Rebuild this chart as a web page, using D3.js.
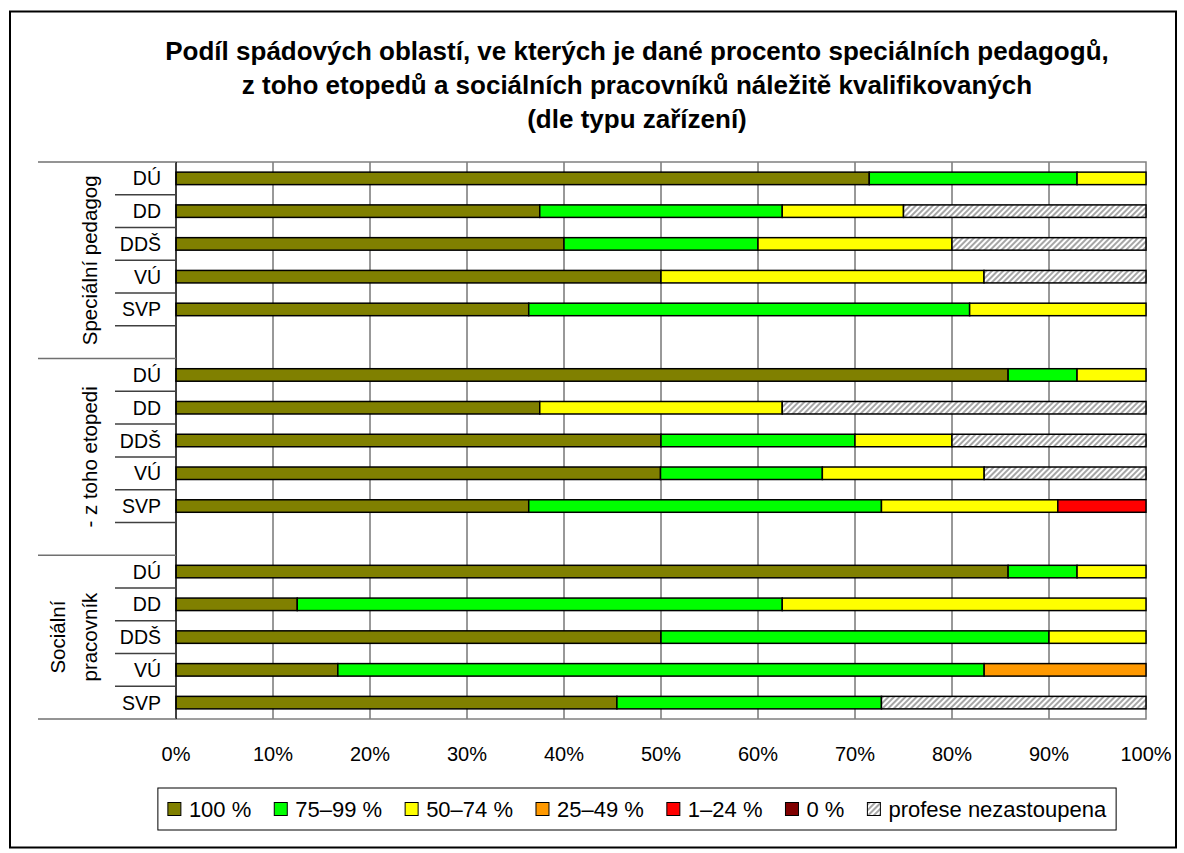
<!DOCTYPE html>
<html><head><meta charset="utf-8">
<script src="https://cdn.jsdelivr.net/npm/d3@7"></script>
<style>
body{margin:0;background:#fff}
svg{display:block}
text{font-family:Arial,"Liberation Sans",sans-serif;fill:#000}
</style>
</head><body>
<svg id="chart" width="1184" height="853"></svg>
<script>
// ---- data ----
const titleLines = [
  "Podíl spádových oblastí, ve kterých je dané procento speciálních pedagogů,",
  "z toho etopedů a sociálních pracovníků náležitě kvalifikovaných",
  "(dle typu zařízení)"
];
const groups = ["Speciální pedagog", "- z toho etopedi", "Sociální pracovník"];
const groupLabelLines = [["Speciální pedagog"], ["- z toho etopedi"], ["Sociální", "pracovník"]];
const categories = ["DÚ", "DD", "DDŠ", "VÚ", "SVP"];
const seriesNames = ["100 %", "75–99 %", "50–74 %", "25–49 %", "1–24 %", "0 %", "profese nezastoupena"];
const seriesColors = ["#808000", "#00FF00", "#FFFF00", "#FF9900", "#FF0000", "#800000", "url(#hatch)"];
// rows: Speciální pedagog (DÚ..SVP), z toho etopedi (DÚ..SVP), Sociální pracovník (DÚ..SVP)
const v100   = [71.4, 37.5, 40, 50, 36.4,   85.7, 37.5, 50, 50, 36.4,   85.7, 12.5, 50, 16.7, 45.5];
const v75    = [21.4, 25, 20, 0, 45.5,      7.1, 0, 20, 16.7, 36.4,     7.1, 50, 40, 66.7, 27.3];
const v50    = [7.1, 12.5, 20, 33.3, 18.2,  7.1, 25, 10, 16.7, 18.2,    7.1, 37.5, 10, 0, 0];
const v25    = [0, 0, 0, 0, 0,              0, 0, 0, 0, 0,              0, 0, 0, 16.7, 0];
const v1     = [0, 0, 0, 0, 0,              0, 0, 0, 0, 9.1,            0, 0, 0, 0, 0];
const v0     = [0, 0, 0, 0, 0,              0, 0, 0, 0, 0,              0, 0, 0, 0, 0];
const vNone  = [0, 25, 20, 16.7, 0,         0, 37.5, 20, 16.7, 0,       0, 0, 0, 0, 27.3];
const xTickValues = [0, 10, 20, 30, 40, 50, 60, 70, 80, 90, 100];

// ---- build table ----
const seriesArrays = [v100, v75, v50, v25, v1, v0, vNone];
const rows = [];
groups.forEach((g, gi) => categories.forEach((c, ci) => {
  const idx = gi * categories.length + ci;
  const r = {slot: g + "|" + c, group: g, cat: c};
  seriesNames.forEach((s, si) => r[s] = seriesArrays[si][idx]);
  rows.push(r);
}));
const slots = [];
groups.forEach((g, gi) => {
  categories.forEach(c => slots.push(g + "|" + c));
  if (gi < groups.length - 1) slots.push(g + "|gap");
});

const svg = d3.select("#chart");
const L = 176, R = 1146, T = 162, B = 719;

// defs
const defs = svg.append("defs");
const pat = defs.append("pattern").attr("id", "hatch").attr("patternUnits", "userSpaceOnUse")
  .attr("width", 4).attr("height", 4).attr("patternTransform", "rotate(45)");
pat.append("rect").attr("width", 4).attr("height", 4).attr("fill", "#ffffff");
pat.append("rect").attr("width", 2).attr("height", 4).attr("fill", "#a6a6a6");

// outer frame
svg.append("rect").attr("x", 10).attr("y", 11.5).attr("width", 1166).attr("height", 836)
  .attr("fill", "#fff").attr("stroke", "#000").attr("stroke-width", 2);

// title
svg.append("g").selectAll("text").data(titleLines).join("text")
  .attr("x", 637).attr("y", (d, i) => 51 + i * 34)
  .attr("text-anchor", "middle").attr("dominant-baseline", "central")
  .style("font-weight", "bold").style("font-size", "26px").text(d => d);

const x = d3.scaleLinear().domain([0, 1]).range([L, R]);
const y = d3.scaleBand().domain(slots).range([T, B]).paddingInner(0).paddingOuter(0);
const bw = y.bandwidth();

// gridlines
svg.append("g").selectAll("line").data(xTickValues.slice(1, -1)).join("line")
  .attr("x1", d => x(d / 100)).attr("x2", d => x(d / 100)).attr("y1", T).attr("y2", B)
  .attr("stroke", "#333").attr("stroke-width", 1);
// plot border (top, right, bottom)
svg.append("path").attr("d", `M${L},${T}H${R}V${B}H${L}`).attr("fill", "none")
  .attr("stroke", "#808080").attr("stroke-width", 1.5);

// bars
const stack = d3.stack().keys(seriesNames).offset(d3.stackOffsetExpand);
const stacked = stack(rows);
const barH = 12.5;
svg.append("g").selectAll("g").data(stacked).join("g")
  .attr("fill", (d, i) => seriesColors[i])
  .selectAll("rect").data(d => d.filter(p => p[1] - p[0] > 1e-9)).join("rect")
  .attr("x", d => x(d[0])).attr("width", d => x(d[1]) - x(d[0]))
  .attr("y", d => y(d.data.slot) + (bw - barH) / 2).attr("height", barH)
  .attr("stroke", "#000").attr("stroke-width", 1.5);

// left axis line
svg.append("line").attr("x1", L).attr("x2", L).attr("y1", T).attr("y2", B)
  .attr("stroke", "#000").attr("stroke-width", 1.5);

// category separators and group separators
const boundaries = [];
let si = 0;
groups.forEach((g, gi) => {
  const n = categories.length + (gi < groups.length - 1 ? 1 : 0);
  for (let k = 0; k < n; k++) {
    boundaries.push({y: y(slots[si + k]), major: k === 0});
  }
  si += n;
});
boundaries.push({y: B, major: true});
svg.append("g").selectAll("line").data(boundaries).join("line")
  .attr("x1", d => d.major ? 38 : 115).attr("x2", L)
  .attr("y1", d => d.y).attr("y2", d => d.y)
  .attr("stroke", d => d.major ? "#707070" : "#404040").attr("stroke-width", 1.5);

// category labels
svg.append("g").selectAll("text").data(rows).join("text")
  .attr("x", 161).attr("y", d => y(d.slot) + bw / 2)
  .attr("text-anchor", "end").attr("dominant-baseline", "central")
  .style("font-size", "19.5px").text(d => d.cat);

// group labels (rotated)
groups.forEach((g, gi) => {
  const first = y(g + "|" + categories[0]);
  const last = gi < groups.length - 1 ? y(g + "|gap") + bw : B;
  const cy = (first + last) / 2;
  const lines = groupLabelLines[gi];
  lines.forEach((ln, li) => {
    const cx = 89 - (lines.length - 1 - li) * 32;
    svg.append("text").attr("transform", `translate(${cx},${cy}) rotate(-90)`)
      .attr("text-anchor", "middle").attr("dominant-baseline", "central")
      .style("font-size", "20.5px").text(ln);
  });
});

// x axis labels
svg.append("g").selectAll("text").data(xTickValues).join("text")
  .attr("x", d => x(d / 100)).attr("y", 754)
  .attr("text-anchor", "middle").attr("dominant-baseline", "central")
  .style("font-size", "20px").text(d => d + "%");

// legend
const lg = svg.append("g");
const lbox = lg.append("rect").attr("fill", "#fff").attr("stroke", "#000").attr("stroke-width", 1);
let cx = 0;
seriesNames.forEach((s, i) => {
  const it = lg.append("g").attr("transform", `translate(${cx},0)`);
  it.append("rect").attr("x", 0).attr("y", -6.5).attr("width", 13).attr("height", 13)
    .attr("fill", seriesColors[i]).attr("stroke", "#000").attr("stroke-width", 1);
  const t = it.append("text").attr("x", 21).attr("y", 0).attr("dominant-baseline", "central")
    .style("font-size", "22px").text(s);
  const w = t.node().getComputedTextLength();
  cx += 21 + w + 23;
});
const totalW = cx - 23;
const legendX = 637 - totalW / 2, legendY = 809;
lg.attr("transform", `translate(${legendX},${legendY})`);
lbox.attr("x", -10).attr("y", -21).attr("width", totalW + 20).attr("height", 42);
</script>
</body></html>
